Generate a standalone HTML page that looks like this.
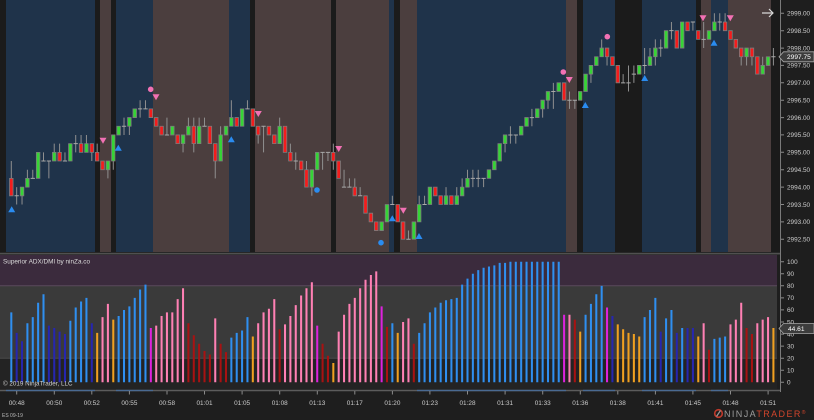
<!DOCTYPE html>
<html><head><meta charset="utf-8"><style>
html,body{margin:0;padding:0;background:#1e1e1e;}
body{width:814px;height:420px;overflow:hidden;}
svg{display:block;font-family:"Liberation Sans",Arial,sans-serif;}
</style></head><body>
<svg width="814" height="420" viewBox="0 0 814 420" xmlns="http://www.w3.org/2000/svg">
<rect x="0" y="0" width="814" height="420" fill="#1e1e1e"/>
<!-- price panel bands -->
<g id="bands">
<rect x="0" y="0" width="781" height="252" fill="#1b1b1b"/>
<g fill="#1f334a">
<rect x="6" y="0" width="89" height="252"/><rect x="116" y="0" width="37" height="252"/><rect x="229" y="0" width="21" height="252"/><rect x="389" y="0" width="5" height="252"/><rect x="417" y="0" width="149" height="252"/><rect x="583" y="0" width="32" height="252"/><rect x="642" y="0" width="54" height="252"/><rect x="711" y="0" width="17" height="252"/>
</g>
<g fill="#4b3e3e">
<rect x="100" y="0" width="11" height="252"/><rect x="153" y="0" width="76" height="252"/><rect x="255" y="0" width="76" height="252"/><rect x="336" y="0" width="53" height="252"/><rect x="400" y="0" width="17" height="252"/><rect x="566" y="0" width="11" height="252"/><rect x="701" y="0" width="10" height="252"/><rect x="728" y="0" width="43" height="252"/>
</g>
</g>
<!-- separator -->
<rect x="0" y="252" width="781" height="3" fill="#272727"/>
<line x1="0" y1="253.8" x2="781" y2="253.8" stroke="#5e5e5e" stroke-width="1"/>
<!-- candles: wicks -->
<g transform="translate(11.3,13.3) scale(5.367,8.69)">
<path fill="none" stroke="#8f8f8f" stroke-width="1" vector-effect="non-scaling-stroke" d="M0 17V21M1 20V22M2 20V22M3 18V20M4 18V19M5 16V19M6 16V17M7 17V19M8 15V17M9 15V17M10 16V17M11 15V17M12 14V16M13 14V16M14 14V16M15 15V17M16 15V17M17 17V18M18 17V19M19 14V18M20 13V14M21 12V14M22 12V14M23 11V12M24 10V12M25 10V11M26 11V12M27 12V13M28 13V14M29 12V14M30 13V14M31 14V15M32 14V16M33 12V14M34 12V16M35 12V15M36 12V13M37 13V15M38 15V19M39 13V17M40 13V14M41 10V13M42 12V13M43 11V13M44 10V11M45 11V13M46 13V15M47 13V16M48 13V14M49 14V15M50 12V15M51 13V16M52 15V17M53 16V18M54 17V18M55 17V20M56 18V21M57 16V18M58 16V18M59 16V17M60 15V18M61 17V19M62 18V20M63 19V20M64 19V21M65 20V21M66 21V23M67 23V24M68 24V25M69 24V25M70 22V24M71 21V22M72 22V24M73 24V26M74 25V26M75 24V26M76 21V24M77 21V22M78 20V22M79 20V21M80 21V22M81 20V22M82 21V22M83 20V22M84 19V21M85 18V20M86 18V20M87 18V20M88 19V20M89 18V19M90 17V18M91 15V17M92 14V16M93 13V15M94 14V15M95 13V14M96 12V13M97 11V13M98 11V12M99 10V12M100 9V11M101 8V11M102 8V9M103 8V10M104 9V11M105 10V11M106 9V10M107 7V9M108 6V8M109 5V6M110 3V5M111 4V6M112 5V6M113 6V8M114 7V8M115 6V9M116 6V8M117 6V7M118 4V7M119 4V6M120 3V6M121 3V5M122 2V4M123 1V3M124 2V4M125 1V4M126 1V2M127 1V2M128 2V3M129 1V4M130 2V3M131 0V2M132 0V2M133 0V2M134 2V3M135 3V4M136 4V6M137 4V6M138 4V6M139 5V7M140 5V7M141 5V6M142 4V6"/>
</g>
<!-- doji -->
<g transform="translate(9.15,13.3) scale(5.367,8.69)">
<path fill="none" stroke="#a8a8a8" stroke-width="1" vector-effect="non-scaling-stroke" d="M1 21h.8M4 19h.8M6 17h.8M7 17h.8M10 17h.8M12 15h.8M21 13h.8M24 11h.8M25 11h.8M29 14h.8M36 13h.8M44 11h.8M47 13h.8M53 17h.8M58 16h.8M59 16h.8M62 20h.8M63 20h.8M65 21h.8M71 22h.8M74 26h.8M77 22h.8M86 19h.8M87 19h.8M88 19h.8M93 14h.8M94 14h.8M97 12h.8M101 9h.8M104 10h.8M105 10h.8M114 8h.8M115 8h.8M116 7h.8M118 6h.8M121 4h.8M123 2h.8M127 1h.8M129 3h.8M132 1h.8M142 5h.8"/>
</g>
<!-- bodies -->
<g transform="translate(9.53,13.3) scale(5.367,8.69)" stroke="#7c7c7c" stroke-width=".8">
<path vector-effect="non-scaling-stroke" fill="#36d436" d="M2 20h.66v1h-.66zM3 19h.66v1h-.66zM5 16h.66v3h-.66zM8 16h.66v1h-.66zM11 15h.66v2h-.66zM14 15h.66v1h-.66zM18 17h.66v1h-.66zM19 14h.66v3h-.66zM20 13h.66v1h-.66zM22 12h.66v1h-.66zM23 11h.66v1h-.66zM30 13h.66v1h-.66zM32 14h.66v1h-.66zM33 13h.66v1h-.66zM35 13h.66v2h-.66zM39 14h.66v3h-.66zM40 13h.66v1h-.66zM41 12h.66v1h-.66zM43 11h.66v2h-.66zM50 13h.66v2h-.66zM56 18h.66v2h-.66zM57 16h.66v2h-.66zM69 24h.66v1h-.66zM70 22h.66v2h-.66zM75 24h.66v2h-.66zM76 22h.66v2h-.66zM78 20h.66v2h-.66zM81 21h.66v1h-.66zM83 21h.66v1h-.66zM84 20h.66v1h-.66zM85 19h.66v1h-.66zM89 18h.66v1h-.66zM90 17h.66v1h-.66zM91 15h.66v2h-.66zM92 14h.66v1h-.66zM95 13h.66v1h-.66zM96 12h.66v1h-.66zM98 11h.66v1h-.66zM99 10h.66v1h-.66zM100 9h.66v1h-.66zM102 8h.66v1h-.66zM106 9h.66v1h-.66zM107 7h.66v2h-.66zM108 6h.66v1h-.66zM109 5h.66v1h-.66zM110 4h.66v1h-.66zM117 6h.66v1h-.66zM119 5h.66v1h-.66zM120 4h.66v1h-.66zM122 2h.66v2h-.66zM125 1h.66v3h-.66zM130 2h.66v1h-.66zM131 1h.66v1h-.66zM137 4h.66v1h-.66zM140 6h.66v1h-.66zM141 5h.66v1h-.66z"/>
<path vector-effect="non-scaling-stroke" fill="#f41c1c" d="M0 19h.66v2h-.66zM9 16h.66v1h-.66zM13 15h.66v1h-.66zM15 15h.66v1h-.66zM16 16h.66v1h-.66zM17 17h.66v1h-.66zM26 11h.66v1h-.66zM27 12h.66v1h-.66zM28 13h.66v1h-.66zM31 14h.66v1h-.66zM34 13h.66v2h-.66zM37 13h.66v2h-.66zM38 15h.66v2h-.66zM42 12h.66v1h-.66zM45 11h.66v2h-.66zM46 13h.66v1h-.66zM48 13h.66v1h-.66zM49 14h.66v1h-.66zM51 13h.66v3h-.66zM52 16h.66v1h-.66zM54 17h.66v1h-.66zM55 18h.66v2h-.66zM60 16h.66v1h-.66zM61 17h.66v2h-.66zM64 20h.66v1h-.66zM66 21h.66v2h-.66zM67 23h.66v1h-.66zM68 24h.66v1h-.66zM72 22h.66v2h-.66zM73 24h.66v2h-.66zM79 20h.66v1h-.66zM80 21h.66v1h-.66zM82 21h.66v1h-.66zM103 8h.66v2h-.66zM111 4h.66v1h-.66zM112 5h.66v1h-.66zM113 6h.66v2h-.66zM124 2h.66v2h-.66zM126 1h.66v1h-.66zM128 2h.66v1h-.66zM133 1h.66v1h-.66zM134 2h.66v1h-.66zM135 3h.66v1h-.66zM136 4h.66v1h-.66zM138 4h.66v1h-.66zM139 5h.66v2h-.66z"/>
</g>
<!-- markers -->
<g fill="#2a8cf0">
<polygon points="8.2,212.3 15.2,212.3 11.7,206.3"/><polygon points="114.8,150.7 121.8,150.7 118.3,144.7"/><polygon points="227.8,142.3 234.8,142.3 231.3,136.3"/><polygon points="388.8,221.3 395.8,221.3 392.3,215.3"/><polygon points="415.5,239 422.5,239 419,233"/><polygon points="581.8,108 588.8,108 585.3,102"/><polygon points="641.2,81 648.2,81 644.7,75"/><polygon points="710.5,45.7 717.5,45.7 714,39.7"/>
<circle cx="317" cy="190" r="2.8"/><circle cx="381" cy="242.7" r="2.8"/>
</g>
<g fill="#f271b4">
<polygon points="99.5,137.7 106.5,137.7 103,143.7"/><polygon points="152.5,94.3 159.5,94.3 156,100.3"/><polygon points="254.8,111 261.8,111 258.3,117"/><polygon points="335.2,146 342.2,146 338.7,152"/><polygon points="399.8,207.7 406.8,207.7 403.3,213.7"/><polygon points="565.8,77 572.8,77 569.3,83"/><polygon points="699.5,15.3 706.5,15.3 703,21.3"/><polygon points="726.8,15.3 733.8,15.3 730.3,21.3"/>
<circle cx="150.7" cy="89.3" r="2.8"/><circle cx="563.3" cy="72" r="2.8"/><circle cx="607.3" cy="36.7" r="2.8"/>
</g>
<path d="M762 13H773M769 9L773 13L769 17" fill="none" stroke="#d8d8d8" stroke-width="1.2"/>
<!-- lower panel -->
<rect x="0" y="255" width="777" height="30.8" fill="#3b2b3d"/>
<rect x="0" y="285.8" width="777" height="72.4" fill="#3a3a3a"/>
<rect x="0" y="358.2" width="777" height="31" fill="#232323"/>
<line x1="0" y1="285.8" x2="777" y2="285.8" stroke="#5a4a5c" stroke-width="1"/>
<line x1="0" y1="358.2" x2="777" y2="358.2" stroke="#4a4a4a" stroke-width="1"/>
<g transform="translate(10.28,382.3) scale(5.367,-1.206)">
<path fill="#2f8ff0" d="M0 0h.38v58h-.38zM3 0h.38v49h-.38zM4 0h.38v54h-.38zM5 0h.38v66h-.38zM6 0h.38v73h-.38zM11 0h.38v51h-.38zM12 0h.38v62h-.38zM13 0h.38v67h-.38zM14 0h.38v70h-.38zM20 0h.38v55h-.38zM21 0h.38v60h-.38zM22 0h.38v63h-.38zM23 0h.38v70h-.38zM24 0h.38v77h-.38zM25 0h.38v81h-.38zM41 0h.38v37h-.38zM42 0h.38v41h-.38zM43 0h.38v43h-.38zM44 0h.38v54h-.38zM71 0h.38v49h-.38zM76 0h.38v41h-.38zM77 0h.38v49h-.38zM78 0h.38v58h-.38zM79 0h.38v62h-.38zM80 0h.38v66h-.38zM81 0h.38v68h-.38zM82 0h.38v69h-.38zM83 0h.38v70h-.38zM84 0h.38v81h-.38zM85 0h.38v86h-.38zM86 0h.38v90h-.38zM87 0h.38v93h-.38zM88 0h.38v95h-.38zM89 0h.38v96h-.38zM90 0h.38v97h-.38zM91 0h.38v99h-.38zM92 0h.38v99h-.38zM93 0h.38v100h-.38zM94 0h.38v100h-.38zM95 0h.38v100h-.38zM96 0h.38v100h-.38zM97 0h.38v100h-.38zM98 0h.38v100h-.38zM99 0h.38v100h-.38zM100 0h.38v100h-.38zM101 0h.38v100h-.38zM102 0h.38v100h-.38zM107 0h.38v56h-.38zM108 0h.38v65h-.38zM109 0h.38v73h-.38zM110 0h.38v80h-.38zM118 0h.38v54h-.38zM119 0h.38v60h-.38zM120 0h.38v70h-.38zM122 0h.38v53h-.38zM123 0h.38v60h-.38zM125 0h.38v45h-.38zM131 0h.38v36h-.38zM132 0h.38v37h-.38zM133 0h.38v38h-.38z"/>
<path fill="#2626b0" d="M1 0h.38v41h-.38zM2 0h.38v34h-.38zM7 0h.38v47h-.38zM8 0h.38v45h-.38zM9 0h.38v42h-.38zM10 0h.38v40h-.38zM15 0h.38v49h-.38zM112 0h.38v55h-.38zM121 0h.38v42h-.38zM124 0h.38v41h-.38zM126 0h.38v45h-.38zM127 0h.38v45h-.38z"/>
<path fill="#f0a020" d="M16 0h.38v41h-.38zM19 0h.38v52h-.38zM45 0h.38v38h-.38zM60 0h.38v16h-.38zM72 0h.38v41h-.38zM106 0h.38v42h-.38zM113 0h.38v48h-.38zM114 0h.38v44h-.38zM115 0h.38v41h-.38zM116 0h.38v40h-.38zM117 0h.38v38h-.38zM128 0h.38v38h-.38zM142 0h.38v45h-.38z"/>
<path fill="#ff80b4" d="M17 0h.38v54h-.38zM18 0h.38v65h-.38zM27 0h.38v47h-.38zM28 0h.38v55h-.38zM29 0h.38v58h-.38zM30 0h.38v58h-.38zM31 0h.38v69h-.38zM32 0h.38v78h-.38zM38 0h.38v53h-.38zM46 0h.38v49h-.38zM47 0h.38v58h-.38zM48 0h.38v61h-.38zM49 0h.38v69h-.38zM51 0h.38v48h-.38zM52 0h.38v55h-.38zM53 0h.38v64h-.38zM54 0h.38v72h-.38zM55 0h.38v78h-.38zM56 0h.38v83h-.38zM61 0h.38v42h-.38zM62 0h.38v56h-.38zM63 0h.38v65h-.38zM64 0h.38v70h-.38zM65 0h.38v78h-.38zM66 0h.38v85h-.38zM67 0h.38v89h-.38zM68 0h.38v92h-.38zM73 0h.38v50h-.38zM74 0h.38v53h-.38zM104 0h.38v56h-.38zM129 0h.38v49h-.38zM134 0h.38v48h-.38zM135 0h.38v52h-.38zM136 0h.38v66h-.38zM139 0h.38v49h-.38zM140 0h.38v52h-.38zM141 0h.38v54h-.38z"/>
<path fill="#dd22dd" d="M26 0h.38v45h-.38zM57 0h.38v47h-.38zM69 0h.38v63h-.38zM103 0h.38v56h-.38zM111 0h.38v62h-.38z"/>
<path fill="#a81212" d="M33 0h.38v49h-.38zM34 0h.38v39h-.38zM35 0h.38v32h-.38zM36 0h.38v26h-.38zM37 0h.38v23h-.38zM39 0h.38v32h-.38zM40 0h.38v25h-.38zM50 0h.38v44h-.38zM58 0h.38v32h-.38zM59 0h.38v22h-.38zM70 0h.38v46h-.38zM75 0h.38v32h-.38zM105 0h.38v52h-.38zM130 0h.38v27h-.38zM137 0h.38v45h-.38zM138 0h.38v40h-.38z"/>
</g>
<text x="3" y="263.6" font-size="6.4" fill="#dcdcdc">Superior ADX/DMI by ninZa.co</text>
<text x="3" y="385.5" font-size="6.3" fill="#cfcfcf">© 2019 NinjaTrader, LLC</text>
<!-- bottom strip -->
<line x1="0" y1="390.5" x2="781" y2="390.5" stroke="#5c5c5c" stroke-width="1.5"/>
<g fill="#4a6a92"><rect x="417" y="389.8" width="149" height="1.4"/><rect x="583" y="389.8" width="32" height="1.4"/><rect x="642" y="389.8" width="54" height="1.4"/><rect x="711" y="389.8" width="17" height="1.4"/><rect x="6" y="389.8" width="89" height="1.4"/><rect x="116" y="389.8" width="37" height="1.4"/></g>
<!-- right axis -->
<line x1="780.5" y1="0" x2="780.5" y2="392" stroke="#7a7a7a" stroke-width="1"/>
<g stroke="#8a8a8a" stroke-width="1">
<path d="M781 13.3h3M781 30.7h3M781 48.1h3M781 65.4h3M781 82.8h3M781 100.2h3M781 117.6h3M781 134.9h3M781 152.3h3M781 169.7h3M781 187.1h3M781 204.5h3M781 221.9h3M781 239.2h3M781 261.7h3M781 273.8h3M781 285.8h3M781 297.9h3M781 309.9h3M781 322h3M781 334.1h3M781 346.1h3M781 358.2h3M781 370.2h3M781 382.3h3"/>
<path d="M16.7 391v3.5M54.3 391v3.5M91.8 391v3.5M129.4 391v3.5M167 391v3.5M204.5 391v3.5M242.1 391v3.5M279.7 391v3.5M317.3 391v3.5M354.8 391v3.5M392.4 391v3.5M429.9 391v3.5M467.5 391v3.5M505.1 391v3.5M542.7 391v3.5M580.3 391v3.5M617.8 391v3.5M655.4 391v3.5M692.9 391v3.5M730.5 391v3.5M768.1 391v3.5"/>
</g>
<g font-size="6.4" fill="#cccccc">
<text x="787" y="15.6">2999.00</text><text x="787" y="33">2998.50</text><text x="787" y="50.4">2998.00</text><text x="787" y="67.7">2997.50</text><text x="787" y="85.1">2997.00</text><text x="787" y="102.5">2996.50</text><text x="787" y="119.9">2996.00</text><text x="787" y="137.2">2995.50</text><text x="787" y="154.6">2995.00</text><text x="787" y="172">2994.50</text><text x="787" y="189.4">2994.00</text><text x="787" y="206.8">2993.50</text><text x="787" y="224.2">2993.00</text><text x="787" y="241.5">2992.50</text>
<text x="787" y="264">100</text><text x="787" y="276.1">90</text><text x="787" y="288.1">80</text><text x="787" y="300.2">70</text><text x="787" y="312.2">60</text><text x="787" y="324.3">50</text><text x="787" y="336.4">40</text><text x="787" y="348.4">30</text><text x="787" y="360.5">20</text><text x="787" y="372.5">10</text><text x="787" y="384.6">0</text>
</g>
<polygon points="779,56.8 783.5,51.8 814,51.8 814,61.8 783.5,61.8" fill="#3c3c3c" stroke="#a8a8a8" stroke-width="0.8"/>
<text x="787" y="59.2" font-size="6.6" fill="#ffffff">2997.75</text>
<polygon points="779,328.5 783.5,323.5 814,323.5 814,333.5 783.5,333.5" fill="#3c3c3c" stroke="#a8a8a8" stroke-width="0.8"/>
<text x="788" y="330.9" font-size="6.6" fill="#ffffff">44.61</text>
<!-- time labels -->
<g font-size="6.4" fill="#cccccc" text-anchor="middle">
<text x="16.7" y="405">00:48</text><text x="54.3" y="405">00:50</text><text x="91.8" y="405">00:52</text><text x="129.4" y="405">00:55</text><text x="167" y="405">00:58</text><text x="204.5" y="405">01:01</text><text x="242.1" y="405">01:05</text><text x="279.7" y="405">01:08</text><text x="317.3" y="405">01:13</text><text x="354.8" y="405">01:17</text><text x="392.4" y="405">01:20</text><text x="429.9" y="405">01:23</text><text x="467.5" y="405">01:28</text><text x="505.1" y="405">01:31</text><text x="542.7" y="405">01:33</text><text x="580.3" y="405">01:36</text><text x="617.8" y="405">01:38</text><text x="655.4" y="405">01:41</text><text x="692.9" y="405">01:45</text><text x="730.5" y="405">01:48</text><text x="768.1" y="405">01:51</text>
</g>
<text x="2" y="417" font-size="5" fill="#bbbbbb">ES 09-19</text>
<!-- logo -->
<circle cx="718.5" cy="413.5" r="3.8" fill="none" stroke="#c0392b" stroke-width="1.6"/>
<path d="M716.5 416.5L720.5 410.5" stroke="#9a9a9a" stroke-width="1.2"/>
<text x="724" y="417" font-size="9" letter-spacing="1.4"><tspan fill="#9c9c9c">NINJA</tspan><tspan fill="#d2452c">TRADER</tspan><tspan fill="#d2452c" font-size="5" dy="-3">®</tspan></text>
</svg>
</body></html>
